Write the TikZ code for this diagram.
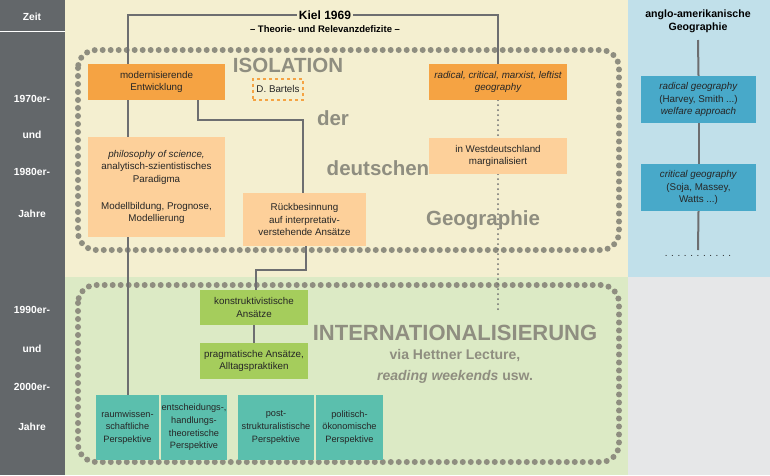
\documentclass[tikz,border=0pt]{standalone}
\usepackage{fontspec}
\setmainfont{Liberation Sans}
\usetikzlibrary{backgrounds}
\definecolor{side}{HTML}{63676A}
\definecolor{yel}{HTML}{F4EFD0}
\definecolor{grn}{HTML}{DCEAC5}
\definecolor{lblue}{HTML}{C1E0EA}
\definecolor{lgray}{HTML}{E6E7E8}
\definecolor{ln}{HTML}{6D6E70}
\definecolor{dot}{HTML}{8F8E80}
\definecolor{orng}{HTML}{F5A343}
\definecolor{lorng}{HTML}{FDD09A}
\definecolor{gbox}{HTML}{A5CD5C}
\definecolor{teal}{HTML}{5BBFAD}
\definecolor{bbox}{HTML}{48A9C9}
\tikzset{
 bx/.style={inner sep=0pt, align=center, font=\fontsize{9.8}{12.7}\selectfont, text=black!85},
 sbx/.style={bx, font=\fontsize{9.2}{12.7}\selectfont},
 conn/.style={draw=ln, line width=2pt},
 dotbox/.style={draw=dot, line width=6pt, dash pattern=on 0pt off 8pt, line cap=round, rounded corners=18pt},
 big/.style={text=dot, font=\bfseries\fontsize{20.5}{22}\selectfont},
 tl/.style={text=white, font=\bfseries\fontsize{10.3}{12}\selectfont}
}
\begin{document}
\begin{tikzpicture}[x=1pt,y=-1pt]
\useasboundingbox (0,0) rectangle (770,475);
\node[tl] (z) at (32,17) {Zeit};
\foreach \t/\y [count=\i] in {1970er-/99,und/135,1980er-/172,Jahre/214,1990er-/310,und/349,2000er-/387,Jahre/427}
  \node[tl] (t\i) at (32,\y) {\t};
% big texts
\node[big] (iso) at (288,65) {ISOLATION};
\node[big] (der) at (333,118) {der};
\node[big] (deu) at (378,168) {deutschen};
\node[big] (geo) at (483,220) {Geographie};
\node[big, font=\bfseries\fontsize{22}{24}\selectfont] (int) at (455,333) {INTERNATIONALISIERUNG};
\node[text=dot, font=\bfseries\fontsize{14}{16}\selectfont] (via) at (455,356) {via Hettner Lecture,};
\node[text=dot, font=\bfseries\fontsize{14}{16}\selectfont] (rw) at (455,377) {\textit{reading weekends} usw.};
% boxes
\node[bx, fill=orng, minimum width=137pt, minimum height=36pt] (me) at (156.5,82) {modernisierende\\Entwicklung};
\node[bx, draw=orng, line width=2pt, dashed, minimum width=50pt, minimum height=21pt] (db) at (278,89) {D. Bartels};
\node[bx, fill=orng, minimum width=138pt, minimum height=36pt] (rc) at (498,82) {\itshape radical, critical, marxist, leftist\\\itshape geography};
\node[bx, fill=lorng, minimum width=137pt, minimum height=100pt] (ph) at (156.5,187) {\textit{philosophy of science,}\\analytisch-szientistisches\\Paradigma\\[14pt]Modellbildung, Prognose,\\Modellierung};
\node[bx, fill=lorng, minimum width=138pt, minimum height=36pt] (wd) at (498,156) {in Westdeutschland\\marginalisiert};
\node[bx, fill=lorng, minimum width=123pt, minimum height=53pt] (rb) at (304.5,219.5) {Rückbesinnung\\auf interpretativ-\\verstehende Ansätze};
\node[bx, fill=gbox, minimum width=108pt, minimum height=35pt] (ko) at (254,307.5) {konstruktivistische\\Ansätze};
\node[bx, fill=gbox, minimum width=108pt, minimum height=36pt] (pr) at (254,361) {pragmatische Ansätze,\\Alltagspraktiken};
\node[sbx, fill=teal, minimum width=63pt, minimum height=65pt] (p1) at (127.5,427.5) {raumwissen-\\schaftliche\\Perspektive};
\node[sbx, fill=teal, minimum width=66pt, minimum height=65pt] (p2) at (194,427.5) {entscheidungs-,\\handlungs-\\theoretische\\Perspektive};
\node[sbx, fill=teal, minimum width=76pt, minimum height=65pt] (p3) at (276,427.5) {post-\\strukturalistische\\Perspektive};
\node[sbx, fill=teal, minimum width=67pt, minimum height=65pt] (p4) at (349.5,427.5) {politisch-\\ökonomische\\Perspektive};
% Kiel
\node[font=\bfseries\fontsize{12}{14}\selectfont, fill=yel, inner sep=2pt] (kiel) at (325,15) {Kiel 1969};
\node[font=\bfseries\fontsize{9.5}{11}\selectfont] (thr) at (325,29) {– Theorie- und Relevanzdefizite –};
% right column
\node[font=\bfseries\fontsize{10.6}{13}\selectfont, align=center] (ang) at (698,21) {anglo-amerikanische\\Geographie};
\node[bx, fill=bbox, minimum width=115pt, minimum height=47pt] (b1) at (698.5,99.5) {\textit{radical geography}\\(Harvey, Smith ...)\\\textit{welfare approach}};
\node[bx, fill=bbox, minimum width=115pt, minimum height=47pt] (b2) at (698.5,187.5) {\textit{critical geography}\\(Soja, Massey,\\Watts ...)};
\coordinate (be) at (698,250);
\coordinate (bt) at (698,40);
\node[bx] (dd) at (698,256) {. . . . . . . . . . .};
\coordinate (de) at (498,312);
\begin{scope}[on background layer]
\fill[yel] (65,0) rectangle (628,277);
\fill[grn] (65,277) rectangle (628,475);
\fill[lblue] (628,0) rectangle (770,277);
\fill[lgray] (628,277) rectangle (770,475);
\fill[side] (0,0) rectangle (65,475);
\draw[white, line width=1pt] (0,31) -- (65,31);
\draw[dotbox] (78,50) rectangle (619,250);
\draw[dotbox] (78,285) rectangle (619,462);
\draw[conn] (kiel.west) -| (p1.north);
\draw[conn] (kiel.east) -| (rc.north);
\draw[conn] ([xshift=41pt]me.south) |- (303,120) -- (303,193);
\draw[conn] (306,246) |- (256,270) -- (256,290);
\draw[conn] (ko.south) -- (pr.north);
\draw[ln, line width=2pt, dash pattern=on 0pt off 5pt, line cap=round] (rc.south) -- (wd.north);
\draw[ln, line width=2pt, dash pattern=on 0pt off 5pt, line cap=round] (wd.south) -- (de);
\draw[conn] (bt) -- (b1.north);
\draw[conn] (b1.south) -- (b2.north);
\draw[conn] (b2.south) -- (be);
\end{scope}
\end{tikzpicture}
\end{document}
